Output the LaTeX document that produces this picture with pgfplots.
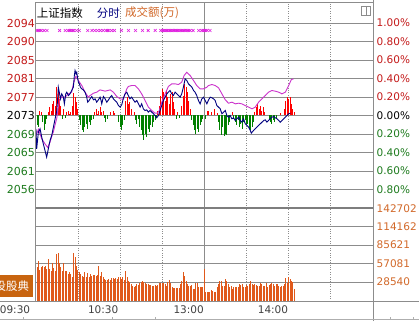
\documentclass[border=0pt]{standalone}
\usepackage{pgfplots}
\pgfplotsset{compat=1.18}
\usepackage{fontspec}
\setmainfont{DejaVu Sans}
\newfontfamily\cjk{Noto Sans CJK SC}
\definecolor{navyline}{HTML}{000080}
\definecolor{magline}{HTML}{CC33CC}
\definecolor{magmark}{HTML}{E020E0}
\definecolor{upred}{HTML}{FF0000}
\definecolor{dngreen}{HTML}{008000}
\definecolor{volorange}{HTML}{E0591B}
\definecolor{labred}{HTML}{C41A1A}
\definecolor{labgreen}{HTML}{1E7B1E}
\definecolor{labvol}{HTML}{D2692A}
\definecolor{gridgray}{HTML}{8C8C8C}
\definecolor{boxorange}{HTML}{C8640F}
\begin{document}
\begin{tikzpicture}[x=1pt,y=1pt]
\useasboundingbox (0,0) rectangle (419,321);
\fill[white] (0,0) rectangle (419,321);

% ---------------- upper panel ----------------
\begin{axis}[at={(35.7pt,113pt)}, anchor=south west, scale only axis,
  width=337.3pt, height=206pt, xmin=0, xmax=240, ymin=-1.0, ymax=1.227,
  clip=false, axis line style={draw=none}, tick style={draw=none},
  xticklabels={}, yticklabels={}, scaled y ticks=false,
  xtick={120}, minor xtick={30,60,90,150,180,210},
  ytick={-0.8,-0.6,-0.4,-0.2,0.2,0.4,0.6,0.8,1.0},
  extra y ticks={0}, extra y tick labels={},
  extra y tick style={grid style={gridgray!90!black, line width=1.6pt}},
  ymajorgrids, xmajorgrids, xminorgrids,
  major grid style={gridgray, line width=0.8pt},
  minor grid style={gridgray, dotted, line width=0.7pt}]
% red bars
\addplot[ycomb, upred, line width=1pt] coordinates {
(3,0.054)(4,0.036)(9,0.036)(10,0.090)(11,0.054)(12,0.126)(13,0.162)(14,0.108)(15,0.306)(16,0.270)(17,0.180)(18,0.108)(20,0.072)(22,0.036)(23,0.054)(24,0.018)(25,0.036)(26,0.108)(27,0.238)(28,0.198)(29,0.144)(30,0.072)(42,0.036)(43,0.072)(44,0.018)(45,0.054)(46,0.090)(47,0.036)(48,0.054)(53,0.036)(55,0.054)(56,0.029)(64,0.162)(65,0.198)(66,0.126)(67,0.144)(68,0.072)(70,0.036)(87,0.054)(88,0.108)(89,0.216)(90,0.288)(91,0.252)(92,0.162)(93,0.270)(94,0.198)(95,0.126)(96,0.234)(97,0.252)(98,0.144)(99,0.072)(101,0.036)(104,0.108)(105,0.216)(106,0.342)(107,0.306)(108,0.252)(109,0.162)(110,0.072)(122,0.054)(123,0.054)(125,0.036)(127,0.072)(129,0.029)(140,0.036)(156,0.036)(157,0.090)(158,0.126)(159,0.072)(160,0.108)(161,0.054)(162,0.090)(163,0.036)(174,0.029)(177,0.072)(178,0.162)(179,0.198)(180,0.180)(181,0.198)(182,0.126)(183,0.072)(184,0.036)};
% green bars
\addplot[ycomb, dngreen, line width=1pt] coordinates {
(0,-0.090)(1,-0.108)(2,-0.126)(5,-0.072)(6,-0.162)(7,-0.090)(8,-0.036)(19,-0.036)(21,-0.029)(31,-0.054)(32,-0.108)(33,-0.162)(34,-0.180)(35,-0.126)(36,-0.090)(37,-0.144)(38,-0.072)(39,-0.108)(40,-0.054)(41,-0.036)(49,-0.029)(50,-0.072)(51,-0.036)(59,-0.072)(60,-0.126)(61,-0.162)(62,-0.108)(63,-0.054)(71,-0.054)(72,-0.090)(73,-0.036)(74,-0.126)(75,-0.162)(76,-0.216)(77,-0.270)(78,-0.198)(79,-0.234)(80,-0.144)(81,-0.180)(82,-0.108)(83,-0.126)(84,-0.072)(85,-0.054)(86,-0.029)(100,-0.036)(102,-0.029)(111,-0.054)(112,-0.108)(113,-0.162)(114,-0.198)(115,-0.144)(116,-0.180)(117,-0.108)(118,-0.072)(119,-0.036)(121,-0.036)(130,-0.072)(131,-0.162)(132,-0.216)(133,-0.126)(134,-0.227)(135,-0.198)(136,-0.216)(137,-0.108)(138,-0.072)(141,-0.036)(142,-0.072)(143,-0.108)(144,-0.054)(145,-0.126)(146,-0.090)(147,-0.144)(148,-0.072)(149,-0.054)(150,-0.108)(151,-0.090)(152,-0.144)(153,-0.162)(154,-0.126)(155,-0.072)(166,-0.036)(167,-0.072)(168,-0.090)(169,-0.054)(170,-0.072)(171,-0.029)};
% average line
\addplot[magline, line width=0.9pt] coordinates {
(0.2,-0.216)(1.9,-0.150)(4.3,-0.252)(6.6,-0.306)(8.5,-0.345)(10.2,-0.288)(11.4,-0.227)(12.6,-0.175)(13.8,-0.100)(15.0,-0.030)(16.1,0.090)(17.3,0.180)(18.5,0.198)(20.9,0.198)(23.3,0.234)(25.6,0.252)(26.8,0.342)(28.5,0.422)(29.2,0.414)(30.4,0.378)(32.8,0.324)(35.1,0.252)(37.5,0.198)(38.7,0.216)(41.1,0.241)(43.4,0.252)(45.8,0.277)(49.4,0.263)(53.0,0.277)(55.3,0.252)(57.7,0.205)(60.1,0.180)(62.4,0.175)(63.6,0.234)(64.8,0.288)(65.9,0.314)(68.3,0.324)(70.7,0.324)(73.1,0.288)(75.4,0.234)(77.8,0.162)(80.2,0.090)(82.6,0.054)(84.9,0.025)(86.6,0.025)(88.0,0.054)(89.7,0.144)(92.1,0.234)(94.4,0.314)(96.8,0.342)(99.2,0.342)(101.6,0.335)(103.9,0.360)(105.6,0.432)(107.5,0.468)(109.9,0.432)(112.3,0.378)(114.6,0.324)(117.0,0.288)(119.4,0.288)(121.8,0.306)(123.0,0.324)(125.4,0.335)(127.7,0.324)(130.1,0.299)(132.5,0.234)(134.9,0.169)(137.2,0.133)(139.6,0.144)(142.0,0.126)(144.4,0.133)(146.7,0.126)(149.1,0.108)(151.5,0.090)(153.9,0.072)(156.2,0.090)(158.6,0.144)(161.0,0.180)(163.4,0.216)(165.7,0.252)(168.1,0.270)(170.5,0.263)(172.9,0.252)(175.2,0.234)(177.6,0.252)(180.0,0.324)(181.9,0.389)(183.5,0.396)};
% index line
\addplot[navyline, line width=0.9pt] coordinates {
(0.2,-0.144)(0.7,-0.360)(1.9,-0.180)(3.1,-0.144)(4.3,-0.234)(5.4,-0.306)(6.6,-0.378)(7.8,-0.450)(9.0,-0.360)(10.2,-0.270)(11.4,-0.216)(12.6,-0.126)(13.8,-0.036)(15.0,0.054)(15.7,0.198)(16.1,0.306)(16.8,0.252)(17.6,0.180)(18.5,0.234)(19.7,0.198)(20.4,0.126)(21.4,0.234)(22.1,0.252)(23.3,0.216)(24.4,0.234)(25.6,0.270)(26.8,0.306)(27.5,0.432)(28.0,0.486)(28.7,0.450)(29.2,0.468)(29.9,0.396)(30.4,0.360)(31.1,0.342)(31.8,0.306)(32.8,0.288)(33.9,0.277)(35.1,0.252)(36.3,0.198)(37.0,0.144)(38.0,0.162)(38.7,0.180)(39.9,0.205)(41.1,0.169)(42.3,0.180)(43.4,0.144)(44.6,0.169)(45.8,0.198)(46.5,0.162)(47.0,0.126)(48.2,0.205)(49.4,0.180)(50.6,0.144)(51.8,0.169)(53.0,0.198)(54.1,0.216)(55.3,0.180)(56.5,0.162)(57.7,0.144)(58.9,0.108)(60.1,0.090)(61.3,0.120)(62.4,0.190)(63.6,0.234)(64.8,0.252)(65.9,0.216)(67.1,0.180)(68.3,0.198)(69.5,0.169)(70.7,0.144)(71.9,0.162)(73.1,0.126)(74.3,0.090)(75.4,0.126)(76.6,0.072)(77.8,0.054)(79.0,0.061)(80.2,0.036)(81.4,0.054)(82.6,0.036)(83.8,0.018)(84.9,0.000)(86.1,-0.025)(87.3,0.000)(88.5,0.054)(89.7,0.108)(90.9,0.162)(92.1,0.198)(93.3,0.234)(94.4,0.252)(95.6,0.270)(96.8,0.234)(98.0,0.216)(99.2,0.252)(100.4,0.234)(101.6,0.216)(102.8,0.198)(103.9,0.234)(105.1,0.306)(106.3,0.396)(107.5,0.378)(108.7,0.342)(109.9,0.324)(111.1,0.306)(112.3,0.270)(113.4,0.252)(114.6,0.216)(115.8,0.162)(117.0,0.126)(118.2,0.180)(119.4,0.198)(120.6,0.162)(121.8,0.126)(123.0,0.169)(124.2,0.198)(125.4,0.191)(126.5,0.180)(127.7,0.162)(128.9,0.108)(130.1,0.090)(131.3,0.072)(132.5,0.018)(133.7,0.036)(134.9,0.054)(136.0,0.000)(137.2,-0.018)(138.4,0.000)(139.6,-0.036)(140.8,-0.025)(142.0,-0.054)(143.2,-0.036)(144.4,-0.018)(145.5,-0.054)(146.7,-0.072)(147.9,-0.036)(149.1,-0.090)(150.3,-0.108)(151.5,-0.126)(152.7,-0.162)(153.4,-0.191)(155.0,-0.162)(156.2,-0.144)(157.4,-0.126)(158.6,-0.108)(159.8,-0.090)(161.0,-0.072)(162.2,-0.054)(163.4,-0.047)(164.5,-0.072)(165.7,-0.054)(166.9,-0.036)(168.1,-0.018)(169.3,-0.011)(170.5,-0.025)(171.7,-0.036)(172.9,-0.054)(174.0,-0.072)(175.2,-0.054)(176.4,-0.036)(177.6,-0.018)(178.8,0.000)(180.0,0.018)(181.2,0.025)};
% signal marks
\addplot[only marks, mark=x, mark size=2pt, magmark, line width=0.6pt] coordinates {
(1,0.919)(2,0.919)(3,0.919)(4,0.919)(6,0.919)(8,0.919)(17,0.919)(21,0.919)(23,0.919)(24,0.919)(25,0.919)(26,0.919)(27,0.919)(29,0.919)(31,0.919)(37,0.919)(40,0.919)(42,0.919)(44,0.919)(46,0.919)(48,0.919)(50,0.919)(51,0.919)(52,0.919)(54,0.919)(56,0.919)(61,0.919)(66,0.919)(71,0.919)(76,0.919)(80,0.919)(85,0.919)(89,0.919)(90,0.919)(91,0.919)(92,0.919)(93,0.919)(94,0.919)(95,0.919)(96,0.919)(97,0.919)(98,0.919)(99,0.919)(100,0.919)(101,0.919)(102,0.919)(103,0.919)(104,0.919)(105,0.919)(106,0.919)(107,0.919)(108,0.919)(109,0.919)(110,0.919)(112,0.919)(116,0.919)(118,0.919)(119,0.919)(120,0.919)(121,0.919)(122,0.919)(124,0.919)};
\end{axis}

% ---------------- volume panel ----------------
\begin{axis}[at={(35.7pt,20pt)}, anchor=south west, scale only axis,
  width=337.3pt, height=93pt, xmin=0, xmax=240, ymin=0, ymax=142702,
  clip=false, axis line style={draw=none}, tick style={draw=none},
  xticklabels={}, yticklabels={}, scaled y ticks=false,
  xtick={120}, minor xtick={30,60,90,150,180,210},
  ytick={28540,57081,85621,114162},
  ymajorgrids, xmajorgrids, xminorgrids,
  major grid style={gridgray, line width=0.8pt},
  minor grid style={gridgray, dotted, line width=0.7pt}]
\addplot[ycomb, volorange, line width=1pt] coordinates {
(0,133400)(1,52700)(2,61000)(3,47600)(4,52700)(5,54300)(6,51700)(7,54300)(8,49100)(9,64600)(10,49100)(11,46500)(12,57900)(13,50700)(14,46500)(15,72400)(16,73900)(17,57900)(18,51700)(19,46500)(20,58900)(21,46500)(22,46500)(23,41400)(24,43900)(25,41400)(26,37200)(27,74400)(28,67200)(29,54300)(30,47600)(31,43900)(32,41400)(33,38800)(34,36200)(35,43900)(36,37200)(37,42900)(38,36200)(39,41400)(40,38800)(41,40300)(42,40300)(43,38800)(44,40300)(45,54300)(46,38800)(47,43900)(48,36200)(49,33600)(50,32100)(51,32100)(52,33600)(53,32100)(54,35200)(55,35200)(56,33100)(57,35200)(58,33600)(59,36200)(60,37200)(61,33600)(62,36200)(63,32100)(64,46500)(65,36200)(66,31000)(67,28400)(68,25900)(69,23300)(70,22200)(71,23300)(72,25900)(73,24800)(74,26900)(75,28400)(76,30000)(77,28400)(78,26900)(79,25900)(80,25900)(81,24800)(82,24800)(83,23300)(84,22700)(85,23800)(86,22700)(87,24800)(88,26900)(89,27900)(90,27900)(91,26900)(92,25900)(93,23300)(94,28400)(95,32100)(96,26900)(97,21700)(98,20700)(99,19600)(100,20700)(101,20700)(102,20700)(103,25900)(104,31000)(105,44500)(106,38800)(107,31000)(108,25900)(109,23300)(110,23300)(111,24800)(112,18100)(113,18100)(114,26900)(115,26900)(116,21700)(117,21700)(118,21700)(119,21700)(120,49100)(121,14000)(122,14500)(123,14500)(124,14500)(125,16500)(126,15500)(127,14500)(128,14500)(129,21700)(130,25900)(131,30000)(132,30000)(133,23300)(134,23300)(135,33600)(136,31000)(137,25900)(138,21700)(139,23300)(140,18100)(141,21700)(142,21700)(143,21700)(144,21700)(145,25900)(146,24800)(147,25900)(148,21700)(149,21700)(150,24800)(151,23300)(152,25900)(153,30000)(154,25900)(155,24800)(156,25900)(157,24800)(158,23300)(159,23300)(160,26900)(161,25900)(162,23300)(163,23300)(164,26900)(165,21700)(166,24800)(167,25900)(168,26900)(169,25900)(170,23300)(171,25900)(172,25900)(173,23300)(174,21700)(175,23300)(176,23300)(177,25900)(178,35200)(179,26900)(180,36200)(181,33600)(182,30000)(183,28400)(184,18100)};
\end{axis}

% ---------------- frames ----------------
\draw[gridgray, line width=0.8pt] (35.7,319) -- (373,319);
\draw[gridgray, line width=0.8pt] (35.7,20) -- (35.7,319.4);
\draw[gridgray, line width=0.8pt] (373,0) -- (373,321);
\draw[gridgray!90!black, line width=2.2pt] (35.7,113) -- (373,113);
\draw[gridgray, line width=0.8pt] (0,20) -- (419,20);
\draw[gridgray!70, line width=0.6pt] (0,1.5) -- (419,1.5);
\foreach \t in {23,112,155,390,413} \draw[gridgray!70, line width=0.6pt] (\t,1.5) -- (\t,4);
% icon
\draw[gridgray, line width=0.7pt] (361.7,306) rectangle (370.7,315);
\draw[gridgray, line width=0.7pt] (366.7,306) -- (366.7,315);

% ---------------- title ----------------
\node[anchor=west, inner sep=0, font=\cjk\fontsize{11.5}{13}\selectfont] at (36.7,308.3) {上证指数};
\node[anchor=west, inner sep=0, text=navyline, font=\cjk\fontsize{11.5}{13}\selectfont] at (96.7,308.3) {分时};
\node[anchor=west, inner sep=0, text=labvol, font=\cjk\fontsize{11.5}{13}\selectfont] at (125,308.3) {成交额(万)};

% ---------------- left labels ----------------
\begin{scope}[every node/.style={anchor=east, inner sep=0, font=\fontsize{11}{12}\selectfont}]
\node[text=labred] at (35,298) {2094};
\node[text=labred] at (35,279.5) {2090};
\node[text=labred] at (35,261) {2085};
\node[text=labred] at (35,242.5) {2081};
\node[text=labred] at (35,224) {2077};
\node[text=black] at (35,205.5) {2073};
\node[text=labgreen] at (35,187) {2069};
\node[text=labgreen] at (35,168.5) {2065};
\node[text=labgreen] at (35,150) {2061};
\node[text=labgreen] at (35,131.5) {2056};
\end{scope}

% ---------------- right labels ----------------
\begin{scope}[every node/.style={anchor=west, inner sep=0, font=\fontsize{10.5}{12}\selectfont}]
\node[text=labred] at (376.5,298) {1.00\%};
\node[text=labred] at (376.5,279.5) {0.80\%};
\node[text=labred] at (376.5,261) {0.60\%};
\node[text=labred] at (376.5,242.5) {0.40\%};
\node[text=labred] at (376.5,224) {0.20\%};
\node[text=black] at (376.5,205.5) {0.00\%};
\node[text=labgreen] at (376.5,187) {0.20\%};
\node[text=labgreen] at (376.5,168.5) {0.40\%};
\node[text=labgreen] at (376.5,150) {0.60\%};
\node[text=labgreen] at (376.5,131.5) {0.80\%};
\node[text=labvol] at (376.5,112.7) {142702};
\node[text=labvol] at (376.5,94.4) {114162};
\node[text=labvol] at (376.5,76) {85621};
\node[text=labvol] at (376.5,57.6) {57081};
\node[text=labvol] at (376.5,39.1) {28540};
\end{scope}

% ---------------- time labels ----------------
\begin{scope}[every node/.style={inner sep=0, text=black!75, font=\fontsize{10.5}{12}\selectfont}]
\node[anchor=center] at (15,11.5) {09:30};
\node[anchor=east] at (118.5,11.5) {10:30};
\node[anchor=east] at (204,11.5) {13:00};
\node[anchor=east] at (288.3,11.5) {14:00};
\end{scope}

% ---------------- orange badge ----------------
\fill[boxorange] (0,24) rectangle (33,46);
\node[anchor=west, inner sep=0, text=white, font=\cjk\fontsize{11.5}{13}\selectfont] at (-5.5,35) {投股典};
\end{tikzpicture}
\end{document}
